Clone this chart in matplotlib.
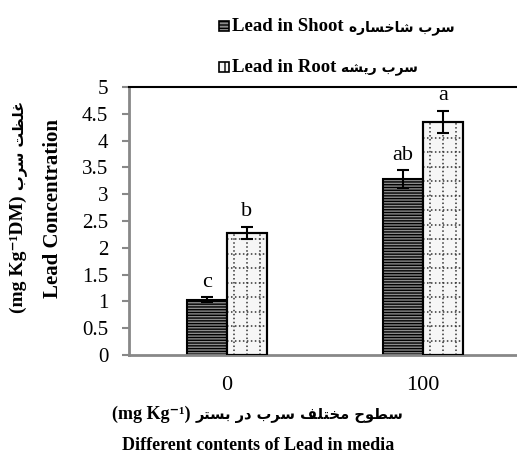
import matplotlib
matplotlib.use("Agg")
import matplotlib.pyplot as plt
import numpy as np
from matplotlib.patches import Rectangle
from matplotlib.transforms import IdentityTransform

# ---------------- data ----------------
categories = ["0", "100"]
shoot_values = [1.03, 3.28]
shoot_err = [0.05, 0.17]
root_values = [2.28, 4.35]
root_err = [0.11, 0.21]
shoot_letters = ["c", "ab"]
root_letters = ["b", "a"]
yticks = [0, 0.5, 1, 1.5, 2, 2.5, 3, 3.5, 4, 4.5, 5]
ytick_labels = ["0", "0.5", "1", "1.5", "2", "2.5", "3", "3.5", "4", "4.5", "5"]

shoot_name_en = "Lead in Shoot"
root_name_en = "Lead in Root"
shoot_name_fa = "سرب شاخساره"
root_name_fa = "سرب ریشه"
ylabel_en = "Lead Concentration"
ylabel_unit = "(mg Kg\u207b\u00b9DM)"
ylabel_fa = "غلظت سرب"
xlabel_fa = "سطوح مختلف سرب در بستر"
xlabel_unit = "(mg Kg\u207b\u00b9)"
xlabel_en = "Different contents of Lead in media"

# ---------------- simple Persian shaping (presentation forms, visual order) ----------------
FORMS = {
    '\u0627': ('\uFE8D', '\uFE8E', None, None),
    '\u0628': ('\uFE8F', '\uFE90', '\uFE91', '\uFE92'),
    '\u062A': ('\uFE95', '\uFE96', '\uFE97', '\uFE98'),
    '\u062D': ('\uFEA1', '\uFEA2', '\uFEA3', '\uFEA4'),
    '\u062E': ('\uFEA5', '\uFEA6', '\uFEA7', '\uFEA8'),
    '\u062F': ('\uFEA9', '\uFEAA', None, None),
    '\u0631': ('\uFEAD', '\uFEAE', None, None),
    '\u0633': ('\uFEB1', '\uFEB2', '\uFEB3', '\uFEB4'),
    '\u0634': ('\uFEB5', '\uFEB6', '\uFEB7', '\uFEB8'),
    '\u0637': ('\uFEC1', '\uFEC2', '\uFEC3', '\uFEC4'),
    '\u0638': ('\uFEC5', '\uFEC6', '\uFEC7', '\uFEC8'),
    '\u063A': ('\uFECD', '\uFECE', '\uFECF', '\uFED0'),
    '\u0641': ('\uFED1', '\uFED2', '\uFED3', '\uFED4'),
    '\u0644': ('\uFEDD', '\uFEDE', '\uFEDF', '\uFEE0'),
    '\u0645': ('\uFEE1', '\uFEE2', '\uFEE3', '\uFEE4'),
    '\u0647': ('\uFEE9', '\uFEEA', '\uFEEB', '\uFEEC'),
    '\u0648': ('\uFEED', '\uFEEE', None, None),
    '\u06CC': ('\uFBFC', '\uFBFD', '\uFBFE', '\uFBFF'),
}


def fa(text):
    chars = list(text)
    out = []
    for i, c in enumerate(chars):
        if c not in FORMS:
            out.append(c)
            continue
        prev = chars[i - 1] if i > 0 else None
        nxt = chars[i + 1] if i + 1 < len(chars) else None
        jp = prev in FORMS and FORMS[prev][2] is not None
        jn = nxt in FORMS and FORMS[c][2] is not None
        iso, fin, ini, med = FORMS[c]
        if jp and jn:
            out.append(med)
        elif jp:
            out.append(fin)
        elif jn:
            out.append(ini)
        else:
            out.append(iso)
    return ''.join(reversed(out))


EN = ['Liberation Serif', 'DejaVu Sans']
FA = ['DejaVu Sans']
plt.rcParams['font.family'] = EN
plt.rcParams['hatch.linewidth'] = 1.0

W, H = 517, 462
fig = plt.figure(figsize=(W / 100, H / 100), dpi=100)
ax = fig.add_axes([129 / W, (H - 355) / H, (W - 129) / W, (355 - 87) / H])

x = np.arange(len(categories))
bw = 0.204
shoot_bars = ax.bar(x - bw / 2, shoot_values, bw, facecolor='#8c8c8c', edgecolor='black',
                    linewidth=1.5, hatch='------', zorder=2)
root_bars = ax.bar(x + bw / 2, root_values, bw, facecolor='#f6f6f6', edgecolor='black',
                   linewidth=1.5, zorder=2)

# dotted grid texture inside root bars
for r in root_bars:
    x0, w, h = r.get_x(), r.get_width(), r.get_height()
    for f in (1 / 6, 1 / 2, 5 / 6):
        ax.plot([x0 + w * f, x0 + w * f], [0, h], color='#333333', lw=1.1,
                linestyle=(0, (1, 1.6)), zorder=3)
    yy = 0.27
    while yy < h - 0.05:
        ax.plot([x0, x0 + w], [yy, yy], color='#333333', lw=1.1,
                linestyle=(0, (1, 1.6)), zorder=3)
        yy += 0.27
    ax.add_patch(Rectangle((x0, 0), w, h, fill=False, edgecolor='black', lw=1.5, zorder=4))

ax.errorbar(x - bw / 2, shoot_values, yerr=shoot_err, fmt='none', ecolor='black',
            elinewidth=1.5, capsize=4.5, capthick=1.5, zorder=5)
ax.errorbar(x + bw / 2, root_values, yerr=root_err, fmt='none', ecolor='black',
            elinewidth=1.5, capsize=4.5, capthick=1.5, zorder=5)

for xi, v, e, t in zip(x - bw / 2, shoot_values, shoot_err, shoot_letters):
    ax.annotate(t, (xi, v + e), xytext=(0, 4), textcoords='offset points', ha='center',
                va='bottom', fontsize=16, family='Liberation Serif')
for xi, v, e, t in zip(x + bw / 2, root_values, root_err, root_letters):
    ax.annotate(t, (xi, v + e), xytext=(0, 4), textcoords='offset points', ha='center',
                va='bottom', fontsize=16, family='Liberation Serif')

ax.set_xlim(-0.5, 1.48)
ax.set_ylim(0, 5)
ax.set_yticks(yticks)
ax.set_yticklabels(ytick_labels, fontsize=15, family='Liberation Serif')
ax.set_xticks(x)
ax.set_xticklabels(categories, fontsize=16, family='Liberation Serif')
ax.tick_params(axis='x', length=0, pad=15)
ax.tick_params(axis='y', length=5, width=1.5, color='#888888', pad=10, direction='out')
for s in ('left', 'bottom'):
    ax.spines[s].set_color('#888888')
    ax.spines[s].set_linewidth(2)
ax.spines['top'].set_color('black')
ax.spines['top'].set_linewidth(1.5)
ax.spines['right'].set_visible(False)

renderer = fig.canvas.get_renderer()
IT = IdentityTransform()


def text_run(items, cx, cy, vertical=False, start=None, gap=5):
    """Place a run of text pieces next to each other (pixel coords, y from top)."""
    objs = []
    for s, fs, fam in items:
        t = fig.text(0, 0, s, fontsize=fs, fontweight='bold', family=fam,
                     rotation=90 if vertical else 0, rotation_mode='anchor',
                     ha='left', va='baseline', transform=IT)
        objs.append(t)
    sizes = []
    for t in objs:
        bb = t.get_window_extent(renderer)
        sizes.append(bb.height if vertical else bb.width)
    total = sum(sizes) + gap * (len(objs) - 1)
    if vertical:
        pos = (H - cy) - total / 2
        for t, sz in zip(objs, sizes):
            t.set_position((cx, pos))
            pos += sz + gap
    else:
        pos = cx - total / 2 if start is None else start
        for t, sz in zip(objs, sizes):
            t.set_position((pos, H - cy))
            pos += sz + gap
    return objs


# y labels (vertical, reading bottom to top)
text_run([(ylabel_en, 15, EN)], 58, 208, vertical=True)
text_run([(ylabel_unit, 14, EN), (fa(ylabel_fa), 10.5, FA)], 23, 207, vertical=True)

# x labels
text_run([(xlabel_unit, 13, EN), (fa(xlabel_fa), 10.5, FA)], 258, 419)
text_run([(xlabel_en, 13, EN)], 258, 450)

# legend
rows = [(31, shoot_name_en, shoot_name_fa, dict(facecolor='#8c8c8c', hatch='-----')),
        (72, root_name_en, root_name_fa, dict(facecolor='#f6f6f6', hatch='+'))]
for yb, en, pf, sty in rows:
    fig.patches.append(Rectangle((219, H - yb), 10, 10, transform=IT,
                                 edgecolor='black', lw=1.2, **sty))
    text_run([(en, 13.5, EN), (fa(pf), 10, FA)], None, yb, start=232)

fig.savefig('out.png', dpi=100)
